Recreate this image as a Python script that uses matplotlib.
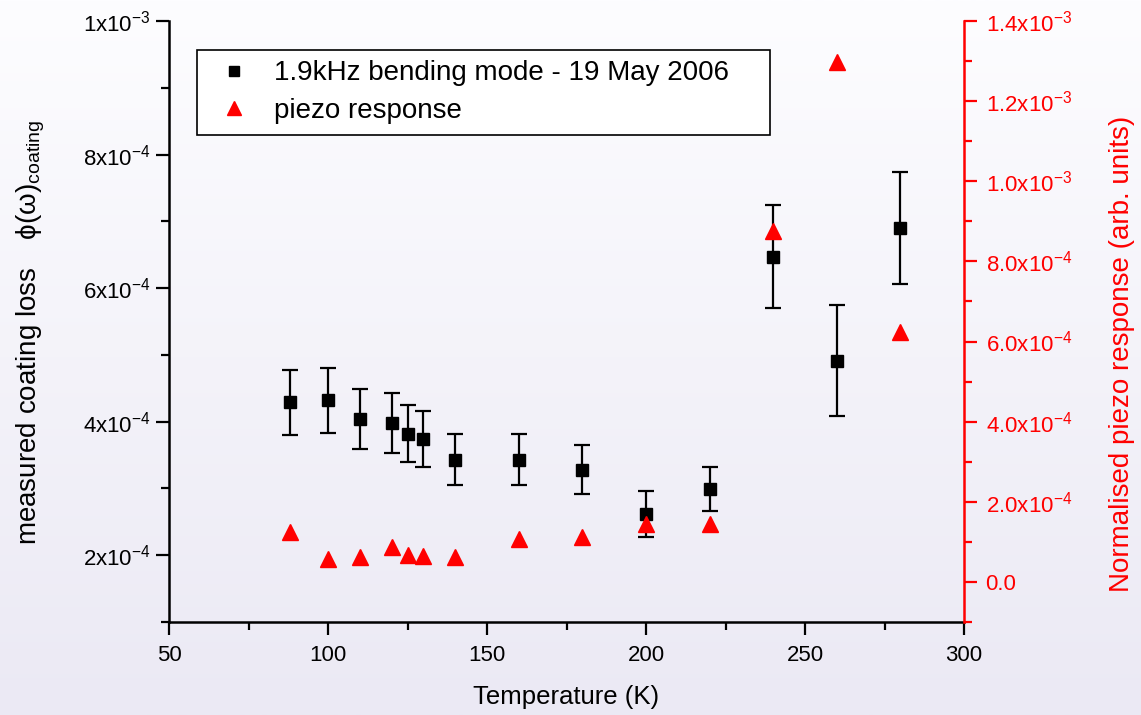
import numpy as np
import matplotlib
matplotlib.use("Agg")
import matplotlib.pyplot as plt
from matplotlib.ticker import FixedLocator, MultipleLocator

plt.rcParams['font.family'] = ['Liberation Sans', 'DejaVu Sans']
plt.rcParams['mathtext.fontset'] = 'custom'
plt.rcParams['mathtext.rm'] = 'Liberation Sans'
plt.rcParams['mathtext.it'] = 'Liberation Sans:italic'
plt.rcParams['mathtext.default'] = 'regular'

# ---- data ----
temperature = [88, 100, 110, 120, 125, 130, 140, 160, 180, 200, 220, 240, 260, 280]
coating_loss = [4.29e-4, 4.32e-4, 4.04e-4, 3.98e-4, 3.82e-4, 3.74e-4, 3.43e-4,
                3.43e-4, 3.28e-4, 2.62e-4, 2.99e-4, 6.47e-4, 4.91e-4, 6.90e-4]
coating_err = [4.9e-5, 4.9e-5, 4.5e-5, 4.45e-5, 4.25e-5, 4.2e-5, 3.85e-5,
               3.8e-5, 3.7e-5, 3.4e-5, 3.35e-5, 7.75e-5, 8.3e-5, 8.4e-5]
piezo = [1.24e-4, 5.7e-5, 6.2e-5, 8.7e-5, 6.7e-5, 6.4e-5, 6.2e-5,
         1.07e-4, 1.12e-4, 1.44e-4, 1.44e-4, 8.77e-4, 1.297e-3, 6.24e-4]

x_ticks = [50, 100, 150, 200, 250, 300]
left_ticks = [2e-4, 4e-4, 6e-4, 8e-4, 1e-3]
left_labels = [r"2x10$^{-4}$", r"4x10$^{-4}$", r"6x10$^{-4}$", r"8x10$^{-4}$", r"1x10$^{-3}$"]
right_ticks = [0.0, 2e-4, 4e-4, 6e-4, 8e-4, 1.0e-3, 1.2e-3, 1.4e-3]
right_labels = ["0.0", r"2.0x10$^{-4}$", r"4.0x10$^{-4}$", r"6.0x10$^{-4}$", r"8.0x10$^{-4}$",
                r"1.0x10$^{-3}$", r"1.2x10$^{-3}$", r"1.4x10$^{-3}$"]

series1_label = "1.9kHz bending mode - 19 May 2006"
series2_label = "piezo response"

RED = '#ff0000'

# ---- figure ----
fig = plt.figure(figsize=(11.41, 7.15), dpi=100)

# background gradient
bg = fig.add_axes([0, 0, 1, 1], zorder=-10)
top_c = np.array([253, 253, 255]) / 255.0
bot_c = np.array([235, 233, 244]) / 255.0
t = np.linspace(0, 1, 256)[:, None]
grad = (top_c[None, :] * (1 - t) + bot_c[None, :] * t)[:, None, :]
bg.imshow(grad, aspect='auto', extent=[0, 1, 0, 1], origin='upper')
bg.set_axis_off()

ax = fig.add_axes([169 / 1141, 1 - 622 / 715, (964 - 169) / 1141, (622 - 21) / 715])
ax.set_facecolor('none')

err = ax.errorbar(temperature, coating_loss, yerr=coating_err, fmt='s', color='black',
                  markersize=9, ecolor='black', elinewidth=1.6, capsize=5.5, capthick=1.6,
                  zorder=3)

ax.set_xlim(50, 300)
ax.set_ylim(1e-4, 1e-3)
ax.xaxis.set_major_locator(FixedLocator(x_ticks))
ax.xaxis.set_minor_locator(MultipleLocator(25))
ax.yaxis.set_major_locator(FixedLocator(left_ticks))
ax.set_yticklabels(left_labels)
ax.yaxis.set_minor_locator(MultipleLocator(1e-4))

for s in ['top', 'right']:
    ax.spines[s].set_visible(False)
for s in ['left', 'bottom']:
    ax.spines[s].set_linewidth(1.8)
    ax.spines[s].set_color('black')

ax.tick_params(axis='both', which='major', direction='out', length=9.5, width=1.6,
               labelsize=16, colors='black')
ax.tick_params(axis='both', which='minor', direction='out', length=5.5, width=1.6)
ax.tick_params(axis='x', which='major', pad=7)
ax.tick_params(axis='y', which='major', pad=4)

ax.set_xlabel("Temperature (K)", fontsize=18.5, labelpad=14)
ax.set_ylabel(r"measured coating loss  $\;\;\phi(\omega)_{coating}$", fontsize=20)
ax.yaxis.set_label_coords(-0.153, 0.4825)

ax2 = ax.twinx()
ax2.set_facecolor('none')
pz, = ax2.plot(temperature, piezo, linestyle='none', marker='^', color=RED,
               markersize=12, zorder=4)
ax2.set_ylim(-1e-4, 1.4e-3)
ax2.yaxis.set_major_locator(FixedLocator(right_ticks))
ax2.set_yticklabels(right_labels)
ax2.yaxis.set_minor_locator(MultipleLocator(1e-4))
for s in ['top', 'left', 'bottom']:
    ax2.spines[s].set_visible(False)
ax2.spines['right'].set_color(RED)
ax2.spines['right'].set_linewidth(1.8)
ax2.tick_params(axis='y', which='major', direction='out', length=9, width=1.6,
                labelsize=16, colors=RED, pad=6.5)
ax2.tick_params(axis='y', which='minor', direction='out', length=5.5, width=1.6,
                colors=RED)
ax2.set_ylabel("Normalised piezo response (arb. units)", fontsize=20, color=RED)
ax2.yaxis.set_label_coords(1.183, 0.446)

leg = ax2.legend([err[0], pz], [series1_label, series2_label],
                 loc='upper left', bbox_to_anchor=(0.035, 0.5, 0.721, 0.452),
                 mode='expand', borderaxespad=0,
                 fontsize=20, frameon=True, fancybox=False, edgecolor='black',
                 framealpha=1, handlelength=1.94, handletextpad=0.47, borderpad=0.38,
                 labelspacing=0.42, markerscale=0.8)
leg.get_frame().set_linewidth(1.2)
leg.set_zorder(10)

fig.savefig("out.png", dpi=100)
